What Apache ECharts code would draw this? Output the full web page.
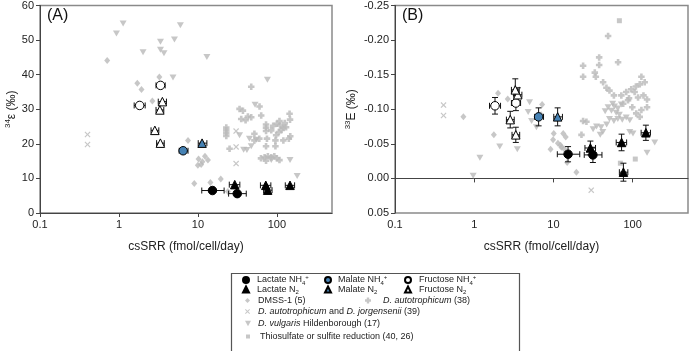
<!DOCTYPE html>
<html>
<head>
<meta charset="utf-8">
<script src="https://cdn.jsdelivr.net/npm/echarts@6/dist/echarts.min.js"></script>
<style>
  html, body { margin: 0; padding: 0; background: #fff; }
  #chart { width: 690px; height: 351px; }
</style>
</head>
<body>
<div id="chart"></div>
<script>
// ---- this study (csSRR shared by both panels) ----
const lactateNH4X = [15.3, 31.5];
const lactateNH4XErr = [[11.2, 21.5], [24.5, 41]];
const lactateNH4A = [6.5, 5.6];
const lactateNH4B = [-0.035, -0.034];
const lactateNH4BErr = [0.011, 0.011];

const lactateN2X = [29.3, 72.5, 76.5, 147];
const lactateN2XErr = [[25, 34], [62, 84], [68, 87], [128, 168]];
const lactateN2A = [8.2, 8.0, 6.6, 8.0];
const lactateN2B = [-0.044, -0.052, -0.009, -0.066];
const lactateN2BErr = [0.010, 0.012, 0.013, 0.011];

const malateNH4X = [6.5];
const malateNH4XErr = [[5.8, 7.5]];
const malateNH4A = [18.0];
const malateNH4B = [-0.089];
const malateNH4BErr = [0.013];

const malateN2X = [11.3];
const malateN2XErr = [[10.1, 13]];
const malateN2A = [20.2];
const malateN2B = [-0.089];
const malateN2BErr = [0.013];

const fructoseNH4X = [3.36, 1.83];
const fructoseNH4XErr = [[2.95, 3.85], [1.56, 2.15]];
const fructoseNH4A = [36.9, 31.1];
const fructoseNH4B = [-0.109, -0.105];
const fructoseNH4BErr = [0.011, 0.012];

const fructoseN2X = [3.55, 3.3, 2.85, 3.35];
const fructoseN2XErr = [[3.15, 4.0], [2.95, 3.7], [2.55, 3.2], [3.0, 3.75]];
const fructoseN2A = [32.2, 29.8, 23.9, 20.2];
const fructoseN2B = [-0.121, -0.128, -0.085, -0.063];
const fructoseN2BErr = [0.010, 0.016, 0.012, 0.011];

// ---- literature data, panel A (34-epsilon) ----
const dmssA = [[0.71, 44.1], [3.25, 39.3], [1.71, 37.5], [1.93, 35.7], [2.65, 32.4], [7.5, 21.0],
  [10.2, 15.6], [11.4, 14.8], [12.3, 16.4], [13.4, 15.3], [10.0, 13.8], [11.0, 14.0],
  [9.0, 8.5], [14.4, 8.8], [19.5, 9.8], [24, 6.2]];
const autoA = [[47.4, 36.5], [33.7, 30.1], [37.2, 29.6], [60.4, 30.8], [43, 27.9], [47.4, 27.7],
  [63.4, 28.2], [35.4, 27.2], [40.2, 26.8], [22.9, 24.7], [22.9, 23.9], [22.9, 23.1], [22.9, 22.3],
  [73, 25.6], [73, 24.7], [73, 23.7], [85, 23.9], [100, 25.8], [108, 26.6], [110, 25.3], [121, 24.7],
  [131, 24.8], [145, 28.7], [147, 27.0], [106, 23.4], [98, 22.5], [142, 21.5], [121, 21.0], [96, 21.0],
  [75, 21.5], [60, 21.5], [52, 21.0], [25.2, 18.6], [73, 19.3], [96, 19.3], [63, 15.8], [70, 16.1],
  [77, 16.4], [85, 16.1], [93, 16.4], [100, 15.8], [108, 15.3], [73, 15.1], [148, 22.2], [52, 22.9],
  [115, 24.0], [126, 26.0], [90, 25.2]];
const jorgA = [[0.4, 22.7], [0.4, 19.8], [30.5, 23.7], [30.5, 19.1], [30.5, 14.3]];
const vulgarisA = [[1.13, 54.8], [0.93, 51.9], [6.0, 54.3], [3.36, 49.5], [5.05, 50.2], [2.02, 46.5],
  [3.36, 47.2], [3.72, 46.2], [13, 45.1], [4.84, 39.2], [76, 38.5], [53, 31.3], [45, 21.5],
  [33.7, 22.5], [55, 21.2], [41.8, 18.2], [38, 18.3], [47.4, 19.3], [85, 15.3], [147, 15.3], [181, 10.7]];
const thioA = [];

// ---- literature data, panel B (33-E) ----
const dmssB = [[0.73, -0.089], [1.77, -0.063], [2.0, -0.123], [2.65, -0.115], [7.2, -0.107], [7.0, -0.092],
  [10.1, -0.065], [9.9, -0.056], [11.4, -0.051], [12.3, -0.048], [13.3, -0.065], [14.3, -0.060],
  [12.6, -0.045], [13.6, -0.043], [9.2, -0.042], [14.9, -0.023], [19.5, -0.009]];
const autoB = [[23.7, -0.163], [23.7, -0.147], [37.8, -0.175], [37.8, -0.164], [33.3, -0.153], [34.3, -0.147],
  [49, -0.206], [65.5, -0.168], [42.4, -0.139], [46.7, -0.131], [51, -0.127], [129, -0.147], [142, -0.139],
  [123, -0.136], [152, -0.114], [152, -0.103], [129, -0.099], [117, -0.117], [106, -0.125], [96, -0.129],
  [83, -0.125], [87.5, -0.113], [72, -0.120], [76, -0.108], [99, -0.103], [111, -0.094], [123, -0.089],
  [23.7, -0.083], [26.1, -0.082], [22.6, -0.063], [110, -0.133], [90, -0.116], [58, -0.120], [137, -0.120]];
const jorgB = [[0.41, -0.106], [0.41, -0.091], [30, 0.017]];
const vulgarisB = [[0.97, -0.004], [1.18, -0.030], [2.1, -0.046], [3.5, -0.042], [5.0, -0.110], [5.3, -0.083],
  [6.1, -0.074], [4.8, -0.096], [49, -0.103], [54, -0.098], [59, -0.104], [65, -0.101], [72, -0.107],
  [51, -0.086], [58, -0.083], [65, -0.086], [74, -0.085], [83, -0.088], [92, -0.084], [47, -0.078],
  [40, -0.074], [35, -0.075], [31.7, -0.071], [42, -0.067], [92, -0.067], [101, -0.065], [152, -0.037],
  [190, -0.052], [56, -0.108], [62, -0.095], [68, -0.092], [45, -0.097], [39, -0.063]];
const thioB = [[68, -0.228], [70, -0.022], [108, -0.028]];

const xTicks = [0.1, 1, 10, 100];

const FONT = '"Liberation Sans", Arial, sans-serif';
const GREY = '#b9b9b9';
const BLUE = '#4682b4';
const PLUS = 'path://M3,0h4v3h3v4h-3v3h-4v-3h-3v-4h3z';
const CROSS = 'path://M0,1.4L1.4,0L5,3.6L8.6,0L10,1.4L6.4,5L10,8.6L8.6,10L5,6.4L1.4,10L0,8.6L3.6,5Z';
const DOWN = 'path://M0,0L10,0L5,9Z';

function pairs(xs, ys) { return xs.map((x, i) => [x, ys[i]]); }
function errData(xs, ys, xErr, yErr) {
  return xs.map((x, i) => [x, ys[i], xErr[i][0], xErr[i][1], yErr ? yErr[i] : 0]);
}

function errRender(params, api) {
  const x = api.value(0), y = api.value(1);
  const c = api.coord([x, y]);
  const lo = api.coord([api.value(2), y]);
  const hi = api.coord([api.value(3), y]);
  const ye = api.value(4);
  const cap = 3;
  const st = { stroke: '#111', lineWidth: 1 };
  const kids = [
    { type: 'line', shape: { x1: lo[0], y1: c[1], x2: hi[0], y2: c[1] }, style: st },
    { type: 'line', shape: { x1: lo[0], y1: c[1] - cap, x2: lo[0], y2: c[1] + cap }, style: st },
    { type: 'line', shape: { x1: hi[0], y1: c[1] - cap, x2: hi[0], y2: c[1] + cap }, style: st }
  ];
  if (ye > 0) {
    const t = api.coord([x, y - ye]), b = api.coord([x, y + ye]);
    kids.push({ type: 'line', shape: { x1: c[0], y1: t[1], x2: c[0], y2: b[1] }, style: st });
    kids.push({ type: 'line', shape: { x1: c[0] - cap, y1: t[1], x2: c[0] + cap, y2: t[1] }, style: st });
    kids.push({ type: 'line', shape: { x1: c[0] - cap, y1: b[1], x2: c[0] + cap, y2: b[1] }, style: st });
  }
  return { type: 'group', children: kids };
}

function greySeries(name, data, idx, symbol, size) {
  return {
    name, type: 'scatter', xAxisIndex: idx, yAxisIndex: idx, data, symbol, symbolSize: size,
    itemStyle: { color: GREY }, z: 2, silent: true
  };
}
function mainSeries(name, data, idx, symbol, size, fill) {
  return {
    name, type: 'scatter', xAxisIndex: idx, yAxisIndex: idx, data, symbol, symbolSize: size,
    itemStyle: { color: fill, borderColor: '#000', borderWidth: 1, opacity: 1 }, z: 4, silent: true
  };
}
function errSeries(data, idx) {
  return { type: 'custom', xAxisIndex: idx, yAxisIndex: idx, data, renderItem: errRender,
    encode: { x: 0, y: 1 }, z: 3, silent: true };
}

const panels = [
  { dmss: dmssA, auto: autoA, jorg: jorgA, vulg: vulgarisA, thio: thioA,
    lNH4: lactateNH4A, lN2: lactateN2A, mNH4: malateNH4A, mN2: malateN2A, fNH4: fructoseNH4A, fN2: fructoseN2A,
    err: null },
  { dmss: dmssB, auto: autoB, jorg: jorgB, vulg: vulgarisB, thio: thioB,
    lNH4: lactateNH4B, lN2: lactateN2B, mNH4: malateNH4B, mN2: malateN2B, fNH4: fructoseNH4B, fN2: fructoseN2B,
    err: [lactateNH4BErr, lactateN2BErr, malateNH4BErr, malateN2BErr, fructoseNH4BErr, fructoseN2BErr] }
];

const series = [];
panels.forEach((p, i) => {
  series.push(greySeries('thio', p.thio, i, 'rect', 5));
  series.push(greySeries('jorg', p.jorg, i, CROSS, 6));
  series.push(greySeries('dmss', p.dmss, i, 'diamond', [6, 7]));
  series.push(greySeries('vulg', p.vulg, i, DOWN, [7, 6]));
  series.push(greySeries('auto', p.auto, i, PLUS, 6.5));
  const e = p.err || [null, null, null, null, null, null];
  series.push(errSeries(errData(lactateNH4X, p.lNH4, lactateNH4XErr, e[0]), i));
  series.push(errSeries(errData(lactateN2X, p.lN2, lactateN2XErr, e[1]), i));
  series.push(errSeries(errData(malateNH4X, p.mNH4, malateNH4XErr, e[2]), i));
  series.push(errSeries(errData(malateN2X, p.mN2, malateN2XErr, e[3]), i));
  series.push(errSeries(errData(fructoseNH4X, p.fNH4, fructoseNH4XErr, e[4]), i));
  series.push(errSeries(errData(fructoseN2X, p.fN2, fructoseN2XErr, e[5]), i));
  series.push(mainSeries('lNH4', pairs(lactateNH4X, p.lNH4), i, 'circle', 8.5, '#000'));
  series.push(mainSeries('lN2', pairs(lactateN2X, p.lN2), i, 'triangle', 8.5, '#000'));
  series.push(mainSeries('mNH4', pairs(malateNH4X, p.mNH4), i, 'circle', 8.5, BLUE));
  series.push(mainSeries('mN2', pairs(malateN2X, p.mN2), i, 'triangle', 8.5, BLUE));
  series.push(mainSeries('fNH4', pairs(fructoseNH4X, p.fNH4), i, 'circle', 8.5, '#fff'));
  series.push(mainSeries('fN2', pairs(fructoseN2X, p.fN2), i, 'triangle', 8.5, '#fff'));
});

const LF = 9;
const richBase = {
  t: { fontSize: LF, color: '#222', fontFamily: FONT, lineHeight: 12 },
  i: { fontSize: LF, color: '#222', fontFamily: FONT, fontStyle: 'italic', lineHeight: 12 },
  sub: { fontSize: 6, color: '#222', fontFamily: FONT, verticalAlign: 'bottom', lineHeight: 12 },
  sup: { fontSize: 6, color: '#222', fontFamily: FONT, verticalAlign: 'top', lineHeight: 12 }
};
const legendLabels = {
  lNH4: '{t|Lactate NH}{sub|4}{sup|+}',
  lN2: '{t|Lactate N}{sub|2}',
  mNH4: '{t|Malate NH}{sub|4}{sup|+}',
  mN2: '{t|Malate N}{sub|2}',
  fNH4: '{t|Fructose NH}{sub|4}{sup|+}',
  fN2: '{t|Fructose N}{sub|2}',
  dmss: '{t|DMSS-1 (5)}',
  auto: '{i|D. autotrophicum}{t| (38)}',
  jorg: '{i|D. autotrophicum}{t| and }{i|D. jorgensenii}{t| (39)}',
  vulg: '{i|D. vulgaris}{t| Hildenborough (17)}',
  thio: '{t|Thiosulfate or sulfite reduction (40, 26)}'
};
// legend layout: [series, left, top, icon size, text pad]
const legendLayout = [
  ['lNH4', 242, 274, 6, 3], ['mNH4', 324, 274, 6, 2], ['fNH4', 404, 274, 6, 3],
  ['lN2', 242, 285, 6, 3], ['mN2', 324, 285, 6, 2], ['fN2', 404, 285, 6, 3],
  ['dmss', 245, 296, 5, 3], ['auto', 365, 296, 6, 7],
  ['jorg', 245, 307, 5, 3], ['vulg', 245, 319, 6, 2], ['thio', 246, 332, 4, 5]
];
const legends = legendLayout.map(([n, l, t, s, pad]) => ({
  data: [n], left: l, top: t, padding: 0, itemWidth: s, itemHeight: s, selectedMode: false,
  formatter: name => legendLabels[name],
  textStyle: { fontSize: LF, color: '#222', fontFamily: FONT, padding: [0, 0, 0, pad], rich: richBase }
}));

function xAxis(idx) {
  return {
    type: 'log', logBase: 10, min: 0.1, max: 500, gridIndex: idx,
    name: 'csSRR (fmol/cell/day)', nameLocation: 'middle', nameGap: 28,
    nameTextStyle: { fontSize: 12, color: '#222', fontFamily: FONT },
    axisLine: { lineStyle: { color: '#444' } },
    axisTick: { length: 4, lineStyle: { color: '#444' } },
    minorTick: { show: false }, splitLine: { show: false },
    axisLabel: {
      fontSize: 11, color: '#222', fontFamily: FONT, margin: 6, showMaxLabel: false,
      formatter: v => {
        const hit = xTicks.find(t => Math.abs(Math.log10(v) - Math.log10(t)) < 0.01);
        return hit === undefined ? '' : String(hit);
      }
    }
  };
}
const axisNameRich = {
  t: { fontSize: 12, color: '#222', fontFamily: FONT, lineHeight: 16 },
  sup: { fontSize: 8, color: '#222', fontFamily: FONT, verticalAlign: 'top', lineHeight: 16 }
};

const option = {
  animation: false,
  backgroundColor: '#fff',
  grid: [
    { left: 40, top: 4, right: 358, bottom: 138, show: true, borderColor: '#8a8a8a', borderWidth: 1.5 },
    { left: 395, top: 4, right: 2, bottom: 138, show: true, borderColor: '#8a8a8a', borderWidth: 1.5 }
  ],
  xAxis: [xAxis(0), xAxis(1)],
  yAxis: [
    {
      type: 'value', gridIndex: 0, min: 0, max: 60, interval: 10,
      name: '{sup|34}{t|ε (‰)}', nameLocation: 'middle', nameGap: 19,
      nameTextStyle: { rich: axisNameRich },
      axisLine: { show: true, lineStyle: { color: '#444' } },
      axisTick: { show: true, length: 4, lineStyle: { color: '#444' } },
      splitLine: { show: false },
      axisLabel: { fontSize: 11, color: '#222', fontFamily: FONT, margin: 6 }
    },
    {
      type: 'value', gridIndex: 1, min: -0.25, max: 0.05, interval: 0.05, inverse: true,
      name: '{sup|33}{t|E (‰)}', nameLocation: 'middle', nameGap: 35,
      nameTextStyle: { rich: axisNameRich },
      axisLine: { show: true, lineStyle: { color: '#444' } },
      axisTick: { show: true, length: 4, lineStyle: { color: '#444' } },
      splitLine: { show: false },
      axisLabel: {
        fontSize: 11, color: '#222', fontFamily: FONT, margin: 6,
        formatter: v => (Math.abs(v) < 1e-9 ? '0.00' : v.toFixed(2))
      }
    }
  ],
  legend: legends,
  graphic: [
    { type: 'text', left: 47, top: 8, style: { text: '(A)', fontSize: 16, fill: '#111', fontFamily: FONT } },
    { type: 'text', left: 402, top: 8, style: { text: '(B)', fontSize: 16, fill: '#111', fontFamily: FONT } },
    { type: 'rect', left: 229, top: 271, shape: { width: 288, height: 78 },
      style: { fill: 'none', stroke: '#555', lineWidth: 1.2 }, z: -1 }
  ],
  series
};

const chart = echarts.init(document.getElementById('chart'), null, { renderer: 'canvas' });
chart.setOption(option);
</script>
</body>
</html>
